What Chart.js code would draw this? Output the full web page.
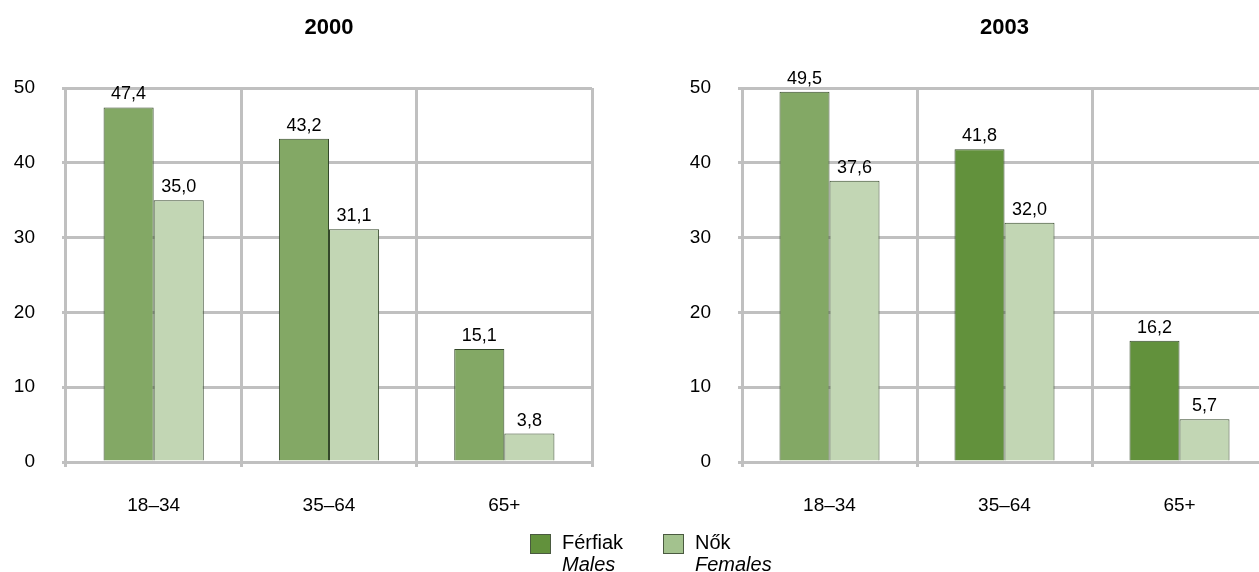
<!DOCTYPE html>
<html>
<head>
<meta charset="utf-8">
<script src="https://cdn.jsdelivr.net/npm/chart.js@4"></script>
<style>
    html, body { margin: 0; padding: 0; background: #fff; }
    #page { position: relative; width: 1259px; height: 572px; overflow: hidden; font-family: "Liberation Sans", Arial, sans-serif; }
    #page canvas { position: absolute; top: 0; }
    #chart2000 { left: 0; }
    #chart2003 { left: 620px; }
    .legend-item { position: absolute; top: 531px; font-size: 20px; line-height: 22px; color: #000; }
    .legend-item .swatch { position: absolute; left: 0; top: 3px; width: 19px; height: 18px; border: 1px solid #4a5a40; }
    .legend-item .txt { margin-left: 32px; }
    .legend-item i { display: block; }
</style>
</head>
<body>
<div id="page">
    <canvas id="chart2000" width="620" height="572"></canvas>
    <canvas id="chart2003" width="660" height="572"></canvas>

    <div class="legend-item" style="left:530px">
        <span class="swatch" style="background:#62913c"></span>
        <div class="txt">Férfiak<i>Males</i></div>
    </div>
    <div class="legend-item" style="left:663px">
        <span class="swatch" style="background:#a3c28e"></span>
        <div class="txt">Nők<i>Females</i></div>
    </div>
</div>

<script>
// age groups and shares, per survey year
var categories = ["18–34", "35–64", "65+"];
var males2000 = [47.4, 43.2, 15.1];
var females2000 = [35.0, 31.1, 3.8];
var males2003 = [49.5, 41.8, 16.2];
var females2003 = [37.6, 32.0, 5.7];
var yTicks = [0, 10, 20, 30, 40, 50];

var maleColors2000 = ["#83a865", "#83a865", "#83a865"];
var maleColors2003 = ["#83a865", "#62913c", "#62913c"];
var femaleColor = "#c2d6b4";
var barBorder = "#34482a";
var gridColor = "#c0c0c0";
var fontFamily = '"Liberation Sans", Arial, sans-serif';

function formatValue(v) {
    return v.toFixed(1).replace(".", ",");
}

// value above each bar + bold year title over the plot area
var annotatePlugin = {
    id: "annotate",
    afterDatasetsDraw: function (chart) {
        var ctx = chart.ctx;
        ctx.save();
        ctx.fillStyle = "#000";
        ctx.textAlign = "center";
        ctx.textBaseline = "alphabetic";
        ctx.font = "18px " + fontFamily;
        chart.data.datasets.forEach(function (ds, i) {
            chart.getDatasetMeta(i).data.forEach(function (bar, j) {
                ctx.fillText(formatValue(ds.data[j]), bar.x, bar.y - 8);
            });
        });
        var area = chart.chartArea;
        ctx.font = "bold 22px " + fontFamily;
        ctx.fillText(chart.options.plugins.annotate.title, (area.left + area.right) / 2, 34);
        ctx.restore();
    }
};

function makeChart(canvasId, title, males, females, maleColors, padLeft, padRight) {
    return new Chart(document.getElementById(canvasId), {
        type: "bar",
        data: {
            labels: categories,
            datasets: [
                { label: "Férfiak", data: males, backgroundColor: maleColors, borderColor: barBorder, borderWidth: 1 },
                { label: "Nők", data: females, backgroundColor: femaleColor, borderColor: barBorder, borderWidth: 1 }
            ]
        },
        options: {
            responsive: false,
            animation: false,
            categoryPercentage: 100 / 175,
            barPercentage: 1,
            layout: { padding: { top: 88, left: padLeft, right: padRight, bottom: 50 } },
            plugins: {
                legend: { display: false },
                tooltip: { enabled: false },
                annotate: { title: title }
            },
            scales: {
                x: {
                    grid: { color: gridColor, lineWidth: 3, offset: true, tickLength: 5 },
                    border: { display: false },
                    ticks: { color: "#000", font: { family: fontFamily, size: 19 }, padding: 27 },
                    afterFit: function (scale) { scale.height = 60; }
                },
                y: {
                    min: yTicks[0],
                    max: yTicks[yTicks.length - 1],
                    afterBuildTicks: function (scale) {
                        scale.ticks = yTicks.map(function (v) { return { value: v }; });
                    },
                    grid: { color: gridColor, lineWidth: 3, tickLength: 4 },
                    border: { display: false },
                    ticks: { color: "#000", font: { family: fontFamily, size: 19 }, padding: 27 },
                    afterFit: function (scale) { scale.width = 66; }
                }
            }
        },
        plugins: [annotatePlugin]
    });
}

makeChart("chart2000", "2000", males2000, females2000, maleColors2000, 0, 28);
makeChart("chart2003", "2003", males2003, females2003, maleColors2003, 56, 13);
</script>
</body>
</html>
